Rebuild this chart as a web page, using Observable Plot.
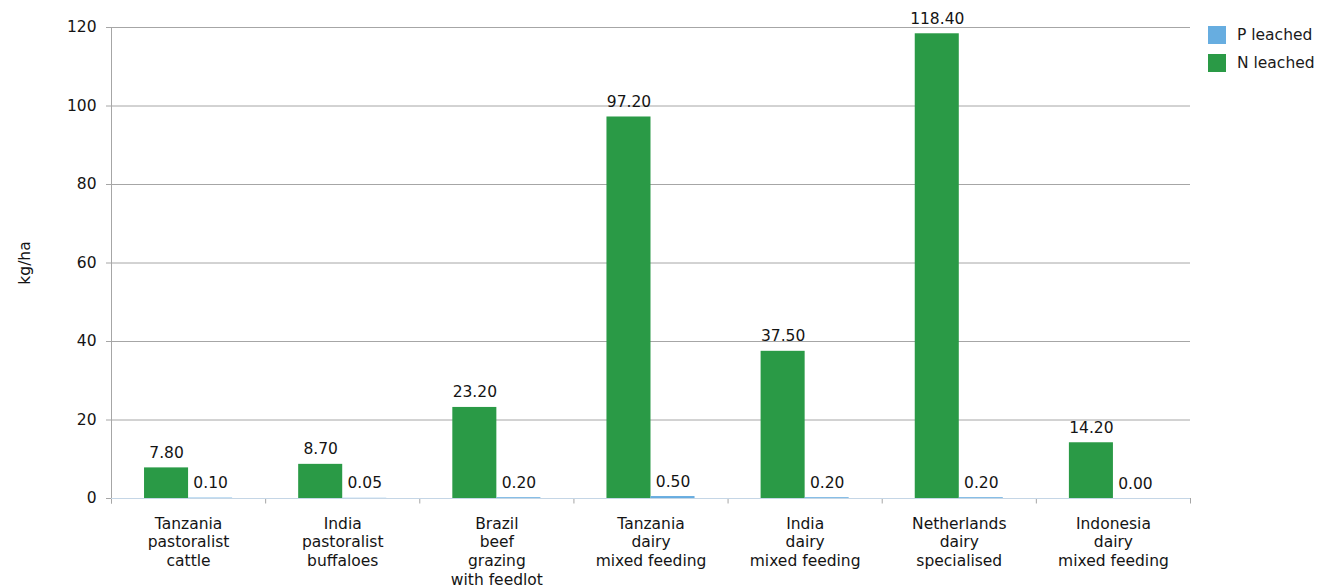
<!DOCTYPE html>
<html>
<head>
<meta charset="utf-8">
<script src="https://cdn.jsdelivr.net/npm/d3@7"></script>
<script src="https://cdn.jsdelivr.net/npm/@observablehq/plot@0.6"></script>
<style>
  html, body { margin: 0; padding: 0; background: #fff; }
  #wrap { position: relative; width: 1329px; height: 586px; font-family: "DejaVu Sans", Verdana, sans-serif; }
  #legend { position: absolute; left: 1208px; top: 26px; font-size: 15.5px; color: #1a1a1a; }
  .li { display: flex; align-items: center; height: 18px; margin-bottom: 10px; }
  .sw { width: 18px; height: 18px; margin-right: 11px; }
</style>
</head>
<body>
<div id="wrap"><div id="chart"></div><div id="legend"></div></div>
<script>
const categories = [
  "Tanzania\npastoralist\ncattle",
  "India\npastoralist\nbuffaloes",
  "Brazil\nbeef\ngrazing\nwith feedlot",
  "Tanzania\ndairy\nmixed feeding",
  "India\ndairy\nmixed feeding",
  "Netherlands\ndairy\nspecialised",
  "Indonesia\ndairy\nmixed feeding"
];
const nLeached = [7.8, 8.7, 23.2, 97.2, 37.5, 118.4, 14.2];
const pLeached = [0.10, 0.05, 0.20, 0.50, 0.20, 0.20, 0.00];
const seriesNames = ["P leached", "N leached"];
const seriesColors = ["#67ade0", "#2a9a46"];
const yTicks = [0, 20, 40, 60, 80, 100, 120];

const barFrac = 0.2857; // bar width as a fraction of a category slot
const data = [];
categories.forEach((c, i) => {
  data.push({cat: c, i, series: "N leached", value: nLeached[i], x1: i + 0.5 - barFrac, x2: i + 0.5});
  data.push({cat: c, i, series: "P leached", value: pLeached[i], x1: i + 0.5, x2: i + 0.5 + barFrac});
});
const centers = categories.map((c, i) => i + 0.5);
const bounds = d3.range(categories.length + 1);
const FS = 15.5;

const chart = Plot.plot({
  width: 1329,
  height: 586,
  marginLeft: 111,
  marginRight: 139,
  marginTop: 27,
  marginBottom: 88,
  style: {fontFamily: '"DejaVu Sans", Verdana, sans-serif', fontSize: FS + "px", color: "#141414", background: "#fff", overflow: "visible"},
  x: {domain: [0, categories.length], axis: null},
  y: {domain: [0, 120], axis: null},
  color: {domain: seriesNames, range: seriesColors},
  marks: [
    Plot.gridY(yTicks, {stroke: "#a6a6a6", strokeOpacity: 1}),
    Plot.axisY({ticks: yTicks, tickSize: 5, tickPadding: 10, stroke: "#a6a6a6", strokeOpacity: 1, label: "kg/ha", labelAnchor: "center", labelOffset: 93, labelArrow: "none", fontSize: FS}),
    Plot.ruleX([0], {y1: -1.4, y2: 120, stroke: "#a6a6a6"}),
    Plot.ruleX(bounds, {y1: -1.4, y2: 0, stroke: "#a6a6a6"}),
    Plot.rectY(data, {x1: "x1", x2: "x2", y: "value", fill: "series"}),
    Plot.ruleY([0], {stroke: "#c5d6e6"}),
    Plot.text(data, {x: d => (d.x1 + d.x2) / 2, y: "value", text: d => d.value.toFixed(2), lineAnchor: "bottom", dy: -10, fontSize: FS, fill: "#141414"}),
    Plot.axisX(centers, {tickSize: 0, tickPadding: 17, tickFormat: d => categories[Math.round(d - 0.5)], lineHeight: 1.2, fontSize: FS, label: null})
  ]
});
document.getElementById("chart").appendChild(chart);

const legend = document.getElementById("legend");
seriesNames.forEach((s, k) => {
  const row = document.createElement("div");
  row.className = "li";
  row.innerHTML = `<div class="sw" style="background:${seriesColors[k]}"></div><span>${s}</span>`;
  legend.appendChild(row);
});
</script>
</body>
</html>
